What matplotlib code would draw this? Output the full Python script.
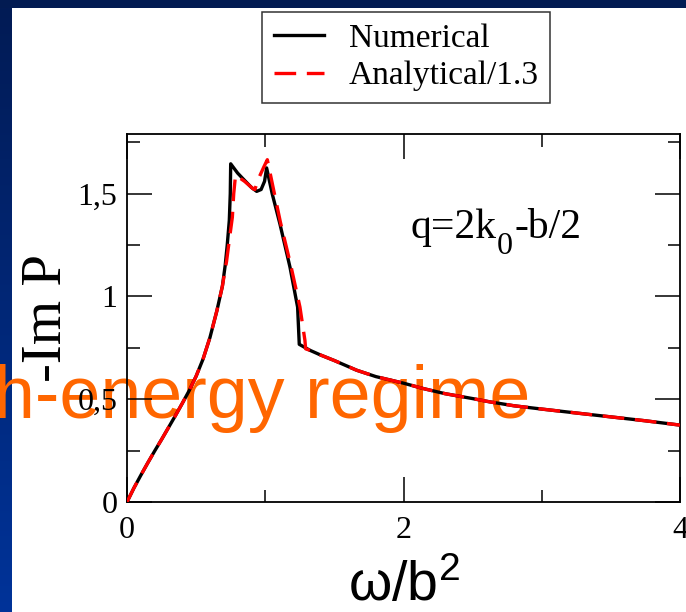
import matplotlib
matplotlib.use("Agg")
import matplotlib.pyplot as plt
import numpy as np
from matplotlib.patches import Rectangle
from matplotlib.colors import LinearSegmentedColormap
from matplotlib.ticker import MultipleLocator, FixedLocator

# values
omega_num = [0.0, 0.05, 0.10, 0.15, 0.20, 0.25, 0.30, 0.35, 0.40, 0.45, 0.50, 0.55, 0.60,
             0.65, 0.69, 0.71, 0.725, 0.740, 0.747, 0.750, 0.800, 0.841, 0.900, 0.938,
             0.970, 0.995, 1.010, 1.050, 1.106, 1.179, 1.234, 1.246, 1.323, 1.40, 1.50,
             1.661, 1.80, 2.00, 2.142, 2.30, 2.50, 2.625, 2.80, 3.00, 3.275, 3.50, 3.75,
             4.00]
im_num = [0.0, 0.068, 0.130, 0.190, 0.248, 0.304, 0.362, 0.420, 0.480, 0.542, 0.612, 0.695,
          0.800, 0.930, 1.050, 1.150, 1.250, 1.370, 1.500, 1.645, 1.600, 1.571, 1.530,
          1.511, 1.520, 1.560, 1.625, 1.500, 1.353, 1.142, 0.948, 0.767, 0.738, 0.715,
          0.688, 0.641, 0.610, 0.578, 0.552, 0.527, 0.503, 0.487, 0.468, 0.452, 0.431,
          0.414, 0.395, 0.374]

omega_ana = [0.0, 0.05, 0.10, 0.15, 0.20, 0.25, 0.30, 0.35, 0.40, 0.45, 0.50, 0.55, 0.60,
             0.65, 0.69, 0.72, 0.745, 0.762, 0.772, 0.785, 0.850, 0.913, 0.925, 0.950,
             0.990, 1.015, 1.060, 1.110, 1.185, 1.251, 1.287, 1.292, 1.323, 1.40, 1.50,
             1.661, 1.80, 2.00, 2.142, 2.30, 2.50, 2.625, 2.80, 3.00, 3.275, 3.50, 3.75,
             4.00]
im_ana = [0.0, 0.068, 0.130, 0.190, 0.248, 0.304, 0.362, 0.420, 0.480, 0.542, 0.612, 0.695,
          0.800, 0.930, 1.050, 1.170, 1.300, 1.385, 1.500, 1.590, 1.560, 1.523, 1.520,
          1.571, 1.630, 1.665, 1.520, 1.360, 1.150, 0.948, 0.786, 0.745, 0.738, 0.715,
          0.688, 0.641, 0.610, 0.578, 0.552, 0.527, 0.503, 0.487, 0.468, 0.452, 0.431,
          0.414, 0.395, 0.374]

xticks = [0, 2, 4]
yticks = [0, 0.5, 1, 1.5]
ytick_labels = ["0", "0,5", "1", "1,5"]

W, H = 686, 612
fig = plt.figure(figsize=(W / 100, H / 100), dpi=100)
fig.patch.set_facecolor("white")


def px(x, y):
    # pixel position from the top-left corner -> figure fraction
    return x / W, 1 - y / H


# slide background: navy strip on top, gradient strip on the left
fig.add_artist(Rectangle((0, 1 - 8 / H), 1, 8 / H, transform=fig.transFigure,
                         facecolor="#021b52", edgecolor="none", zorder=-3))
bg = fig.add_axes([0, 0, 12 / W, 1 - 8 / H], zorder=-3)
grad = np.linspace(0, 1, 256)[:, None]
cmap = LinearSegmentedColormap.from_list("slide", ["#021b55", "#003399"])
bg.imshow(grad, aspect="auto", cmap=cmap, extent=(0, 1, 0, 1), origin="upper")
bg.axis("off")

ax = fig.add_axes([127 / W, 1 - 502 / H, (680 - 127) / W, (502 - 134) / H])
ax.set_facecolor("none")

ax.plot(omega_num, im_num, color="black", lw=2.4, label="Numerical", zorder=3)
ax.plot(omega_ana, im_ana, color="red", lw=2.4, dashes=(6.5, 3.2),
        label="Analytical/1.3", zorder=4)

ax.set_xlim(0, 4)
ax.set_ylim(0, 1.79)
ax.xaxis.set_major_locator(FixedLocator(xticks))
ax.xaxis.set_minor_locator(MultipleLocator(1))
ax.set_yticks(yticks)
ax.set_yticklabels(ytick_labels)
ax.yaxis.set_minor_locator(MultipleLocator(0.25))
ax.tick_params(which="both", direction="in", top=True, right=True, width=1.1)
ax.tick_params(which="major", length=18)
ax.tick_params(which="minor", length=9)
ax.tick_params(axis="x", which="major", pad=10)
ax.tick_params(axis="y", which="major", pad=7)
for lab in ax.get_xticklabels() + ax.get_yticklabels():
    lab.set_fontfamily("Liberation Serif")
    lab.set_fontsize(23)
for s in ax.spines.values():
    s.set_linewidth(1.3)

# q=2k_0-b/2 built from pieces so the subscript sits as low as in the original
serif = "Liberation Serif"
fig.canvas.draw()
renderer = fig.canvas.get_renderer()
x0, base = 410, 238
t1 = fig.text(*px(x0, base), "q=2k", fontfamily=serif, fontsize=30, va="baseline")
w1 = t1.get_window_extent(renderer).width
t2 = fig.text(*px(x0 + w1 + 1, base + 16), "0", fontfamily=serif, fontsize=23,
              va="baseline")
w2 = t2.get_window_extent(renderer).width
fig.text(*px(x0 + w1 + w2 + 2, base), "-b/2", fontfamily=serif, fontsize=30,
         va="baseline")

fig.text(*px(47, 318), "-Im P", rotation=90, fontfamily=serif,
         fontsize=41, ha="center", va="center")

plt.rcParams["mathtext.fontset"] = "custom"
plt.rcParams["mathtext.rm"] = "Liberation Sans"
fig.text(*px(404, 601), r"$\mathregular{\omega/b^2}$", fontfamily="Liberation Sans",
         math_fontfamily="custom", fontsize=40, ha="center", va="baseline")

fig.text(*px(530, 418), "h-energy regime", fontfamily="Liberation Sans",
         fontsize=53, color="#ff6600", ha="right", va="baseline", zorder=-1)

leg = fig.legend(loc="upper left", bbox_to_anchor=px(262, 12), borderaxespad=0,
                 prop={"family": serif, "size": 24}, frameon=True,
                 fancybox=False, edgecolor="black", handlelength=1.5, handletextpad=0.75,
                 borderpad=0.35, labelspacing=0.2)
leg.get_frame().set_linewidth(1.1)

fig.savefig("out.png", dpi=100)
